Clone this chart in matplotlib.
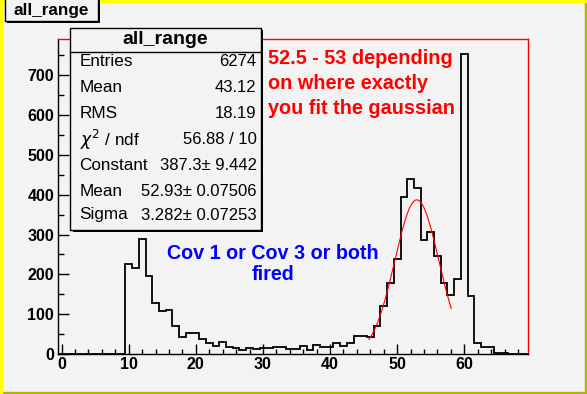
import numpy as np
import matplotlib
matplotlib.use("Agg")
import matplotlib.pyplot as plt
from matplotlib.patches import Rectangle
from matplotlib.ticker import MultipleLocator

# ---------------- data ----------------
bin_lo = -0.5
bin_hi = 69.5
counts = [0, 0, 0, 0, 0, 0, 0, 0, 0, 0,            # 0-9
          226, 215, 288, 197, 129, 108, 110, 70, 42, 54,   # 10-19
          54, 38, 27, 19, 29, 17, 14, 10, 14, 12,  # 20-29
          15, 15, 17, 17, 13, 13, 19, 11, 22, 17,  # 30-39
          17, 28, 19, 28, 44, 46, 42, 70, 121, 178,  # 40-49
          239, 394, 439, 418, 286, 306, 245, 179, 147, 188,  # 50-59
          753, 145, 28, 17, 17, 2, 2, 1, 0, 0]     # 60-69

stats_labels = ["Entries", "Mean", "RMS", r"$\chi^{2}$ / ndf", "Constant", "Mean", "Sigma"]
stats_values = ["6274", "43.12", "18.19", "56.88 / 10", "387.3\u00b1 9.442",
                "52.93\u00b1 0.07506", "3.282\u00b1 0.07253"]
fit_const = 387.3
fit_mean = 52.93
fit_sigma = 3.282
fit_range = [45.8, 58.05]

hist_title = "all_range"
red_note = ["52.5 - 53 depending", "on where exactly", "you fit the gaussian"]
blue_note = ["Cov 1 or Cov 3 or both", "fired"]

# ---------------- figure ----------------
W, H = 587, 394
BG = "#f3f3f3"
FONT = "Liberation Sans"
fig = plt.figure(figsize=(W / 100, H / 100), dpi=100, facecolor=BG)


def fx(x):
    return x / W


def fy(y):
    return 1 - y / H


# canvas border
fig.patches.append(Rectangle((0, 0), 1, 2.5 / H, transform=fig.transFigure,
                             color="#b4b400", zorder=0))
fig.patches.append(Rectangle((1 - 2.5 / W, 0), 2.5 / W, 1, transform=fig.transFigure,
                             color="#b4b400", zorder=0))
fig.patches.append(Rectangle((0, 1 - 2 / H), 1, 2 / H, transform=fig.transFigure,
                             color="#ffff00", zorder=0))
fig.patches.append(Rectangle((0, 0), 2 / W, 1, transform=fig.transFigure,
                             color="#ffff00", zorder=0))

ax_l, ax_r, ax_t, ax_b = 58.3, 528.0, 39.3, 354.0
ax = fig.add_axes([fx(ax_l), fy(ax_b), fx(ax_r - ax_l), (ax_b - ax_t) / H], facecolor=BG)

edges = np.linspace(bin_lo, bin_hi, len(counts) + 1)
ax.stairs(counts, edges, color="black", linewidth=1.3, baseline=0)

xs = np.linspace(fit_range[0], fit_range[1], 300)
ys = fit_const * np.exp(-0.5 * ((xs - fit_mean) / fit_sigma) ** 2)
ax.plot(xs, ys, color="red", linewidth=0.8)

ax.set_xlim(bin_lo, bin_hi)
ax.set_ylim(0, 1.05 * max(counts))

ax.xaxis.set_major_locator(MultipleLocator(10))
ax.xaxis.set_minor_locator(MultipleLocator(2))
ax.yaxis.set_major_locator(MultipleLocator(100))
ax.yaxis.set_minor_locator(MultipleLocator(50))
ax.tick_params(axis="both", which="both", direction="in", top=False, right=False,
               color="black", width=1.0)
ax.tick_params(axis="x", which="major", length=7, pad=2)
ax.tick_params(axis="x", which="minor", length=3.5)
ax.tick_params(axis="y", which="major", length=8, pad=3)
ax.tick_params(axis="y", which="minor", length=4.3)
for lab in ax.get_xticklabels() + ax.get_yticklabels():
    lab.set_fontfamily(FONT)
    lab.set_fontweight("bold")
    lab.set_fontsize(11.5)

for s in ["left", "bottom"]:
    ax.spines[s].set_color("black")
    ax.spines[s].set_linewidth(1.0)
for s in ["top", "right"]:
    ax.spines[s].set_color("red")
    ax.spines[s].set_linewidth(1.0)

# top-left title box
tb_l, tb_r, tb_t, tb_b = 5, 98, -2, 21
fig.patches.append(Rectangle((fx(tb_l + 1.5), fy(tb_b + 1.5)), fx(tb_r - tb_l), (tb_b - tb_t) / H,
                             transform=fig.transFigure, facecolor="black", edgecolor="none", zorder=5))
fig.patches.append(Rectangle((fx(tb_l), fy(tb_b)), fx(tb_r - tb_l), (tb_b - tb_t) / H,
                             transform=fig.transFigure, facecolor=BG, edgecolor="black",
                             linewidth=1.0, zorder=6))
fig.text(fx((tb_l + tb_r) / 2), fy(11), hist_title, ha="center", va="center",
         fontsize=12.3, fontweight="bold", family=FONT, zorder=7)

# stats box
sb_l, sb_r, sb_t, sb_b = 70.3, 261, 27.5, 229.5
fig.patches.append(Rectangle((fx(sb_l + 2.5), fy(sb_b + 2.5)), fx(sb_r - sb_l), (sb_b - sb_t) / H,
                             transform=fig.transFigure, facecolor="black", edgecolor="none", zorder=5))
fig.patches.append(Rectangle((fx(sb_l), fy(sb_b)), fx(sb_r - sb_l), (sb_b - sb_t) / H,
                             transform=fig.transFigure, facecolor=BG, edgecolor="black",
                             linewidth=1.0, zorder=6))
fig.lines.append(plt.Line2D([fx(sb_l), fx(sb_r)], [fy(52), fy(52)], transform=fig.transFigure,
                            color="black", linewidth=1.0, zorder=7))
fig.text(fx((sb_l + sb_r) / 2), fy(39.5), hist_title, ha="center", va="center",
         fontsize=14, fontweight="bold", family=FONT, zorder=7)
row_y = [62, 88, 114, 140, 165, 191, 215]
for lab, val, yy in zip(stats_labels, stats_values, row_y):
    fig.text(fx(79.5), fy(yy), lab, ha="left", va="center", fontsize=12.3, family=FONT, zorder=7)
    fig.text(fx(256.5), fy(yy), val, ha="right", va="center", fontsize=12, family=FONT, zorder=7)

# annotations
for i, line in enumerate(red_note):
    fig.text(fx(268), fy(58.5 + 25 * i), line, ha="left", va="center", color="red",
             fontsize=14.3, fontweight="bold", family=FONT)
for i, line in enumerate(blue_note):
    fig.text(fx(273), fy(253.5 + 21.5 * i), line, ha="center", va="center", color="blue",
             fontsize=14.2, fontweight="bold", family=FONT)

fig.savefig("out.png", dpi=100, facecolor=BG)
